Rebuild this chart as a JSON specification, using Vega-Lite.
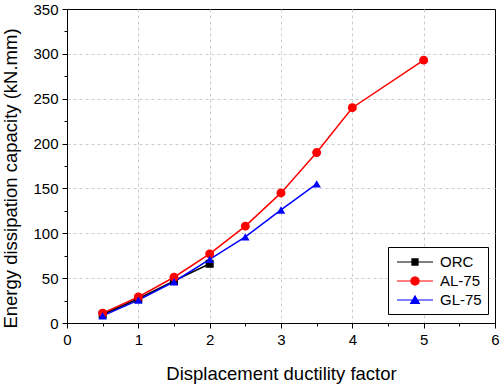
{
  "$schema": "https://vega.github.io/schema/vega-lite/v6.json",
  "width": 428,
  "height": 314,
  "autosize": {"type": "none"},
  "padding": {"left": 67, "top": 9, "right": 5, "bottom": 61},
  "background": "white",
  "config": {
    "view": {"stroke": "black", "strokeWidth": 1},
    "font": "Liberation Sans",
    "axis": {
      "domainColor": "black",
      "tickColor": "black",
      "labelColor": "black",
      "titleColor": "black",
      "labelFont": "Liberation Sans",
      "titleFont": "Liberation Sans",
      "labelFontSize": 15,
      "titleFontSize": 18.5,
      "titleFontWeight": "normal",
      "gridColor": "#cccccc",
      "gridDash": [3, 3],
      "labelPadding": 4
    },
    "legend": {
      "strokeColor": "black",
      "fillColor": "white",
      "padding": 6,
      "cornerRadius": 0,
      "symbolSize": 300,
      "symbolOffset": 12,
      "labelOffset": 16,
      "labelFont": "Liberation Sans",
      "labelFontSize": 15,
      "labelColor": "black",
      "rowPadding": 2,
      "symbolOpacity": 1,
      "symbolStrokeWidth": 0
    }
  },
  "data": {
    "values": [
      {"series": "ORC", "x": 0.5, "y": 9.5},
      {"series": "ORC", "x": 1, "y": 27},
      {"series": "ORC", "x": 1.5, "y": 47},
      {"series": "ORC", "x": 2, "y": 66},
      {"series": "AL-75", "x": 0.5, "y": 11},
      {"series": "AL-75", "x": 1, "y": 29},
      {"series": "AL-75", "x": 1.5, "y": 51},
      {"series": "AL-75", "x": 2, "y": 77},
      {"series": "AL-75", "x": 2.5, "y": 108},
      {"series": "AL-75", "x": 3, "y": 145},
      {"series": "AL-75", "x": 3.5, "y": 190},
      {"series": "AL-75", "x": 4, "y": 240},
      {"series": "AL-75", "x": 5, "y": 293},
      {"series": "GL-75", "x": 0.5, "y": 8},
      {"series": "GL-75", "x": 1, "y": 25.5},
      {"series": "GL-75", "x": 1.5, "y": 46},
      {"series": "GL-75", "x": 2, "y": 71},
      {"series": "GL-75", "x": 2.5, "y": 96},
      {"series": "GL-75", "x": 3, "y": 126},
      {"series": "GL-75", "x": 3.5, "y": 155}
    ]
  },
  "encoding": {
    "x": {
      "field": "x",
      "type": "quantitative",
      "scale": {"domain": [0, 6], "nice": false},
      "axis": {
        "title": "Displacement ductility factor",
        "values": [0, 0.5, 1, 1.5, 2, 2.5, 3, 3.5, 4, 4.5, 5, 5.5, 6],
        "labelExpr": "datum.value % 1 === 0 ? format(datum.value, 'd') : ''",
        "tickSize": {"condition": {"test": "datum.value % 1 === 0", "value": 5}, "value": 3},
        "gridOpacity": {"condition": {"test": "datum.value % 1 === 0 && datum.value > 0 && datum.value < 6", "value": 1}, "value": 0},
        "titleY": 56,
        "titleBaseline": "alphabetic",
        "labelFlush": false,
        "grid": true
      }
    },
    "y": {
      "field": "y",
      "type": "quantitative",
      "scale": {"domain": [0, 350], "nice": false},
      "axis": {
        "title": "Energy dissipation capacity (kN.mm)",
        "values": [0, 25, 50, 75, 100, 125, 150, 175, 200, 225, 250, 275, 300, 325, 350],
        "labelExpr": "datum.value % 50 === 0 ? format(datum.value, 'd') : ''",
        "tickSize": {"condition": {"test": "datum.value % 50 === 0", "value": 5}, "value": 3},
        "gridOpacity": {"condition": {"test": "datum.value % 50 === 0 && datum.value > 0 && datum.value < 350", "value": 1}, "value": 0},
        "titleX": -51,
        "titleY": 169,
        "titleBaseline": "alphabetic",
        "labelFlush": false,
        "grid": true
      }
    }
  },
  "layer": [
    {
      "mark": {"type": "point", "filled": true, "size": 300, "opacity": 0},
      "encoding": {
        "color": {
          "field": "series",
          "type": "nominal",
          "scale": {"domain": ["ORC", "AL-75", "GL-75"], "range": ["#000000", "#ff0000", "#0000ff"]},
          "legend": {"title": null, "orient": "none", "legendX": 321, "legendY": 238}
        },
        "shape": {
          "field": "series",
          "type": "nominal",
          "scale": {
            "domain": ["ORC", "AL-75", "GL-75"],
            "range": [
              "M-2.08,-0.06H2.08V0.06H-2.08Z M-0.42,-0.42H0.42V0.42H-0.42Z",
              "M-2.08,-0.06H2.08V0.06H-2.08Z M0.55,0L0.476,0.275L0.275,0.476L0,0.55L-0.275,0.476L-0.476,0.275L-0.55,0L-0.476,-0.275L-0.275,-0.476L0,-0.55L0.275,-0.476L0.476,-0.275Z",
              "M-2.08,-0.06H2.08V0.06H-2.08Z M0,-0.62L0.62,0.45L-0.62,0.45Z"
            ]
          },
          "legend": {"title": null, "orient": "none", "legendX": 321, "legendY": 238}
        }
      }
    },
    {
      "mark": {"type": "line", "strokeWidth": 1.5},
      "encoding": {"color": {"field": "series", "type": "nominal"}}
    },
    {
      "transform": [{"filter": "datum.series === 'ORC'"}],
      "mark": {"type": "point", "filled": true, "size": 64, "opacity": 1, "shape": "square"},
      "encoding": {"color": {"field": "series", "type": "nominal"}}
    },
    {
      "transform": [{"filter": "datum.series === 'AL-75'"}],
      "mark": {"type": "point", "filled": true, "size": 80, "opacity": 1, "shape": "circle"},
      "encoding": {"color": {"field": "series", "type": "nominal"}}
    },
    {
      "transform": [{"filter": "datum.series === 'GL-75'"}],
      "mark": {"type": "point", "filled": true, "size": 72, "opacity": 1, "shape": "triangle-up"},
      "encoding": {"color": {"field": "series", "type": "nominal"}}
    }
  ]
}
